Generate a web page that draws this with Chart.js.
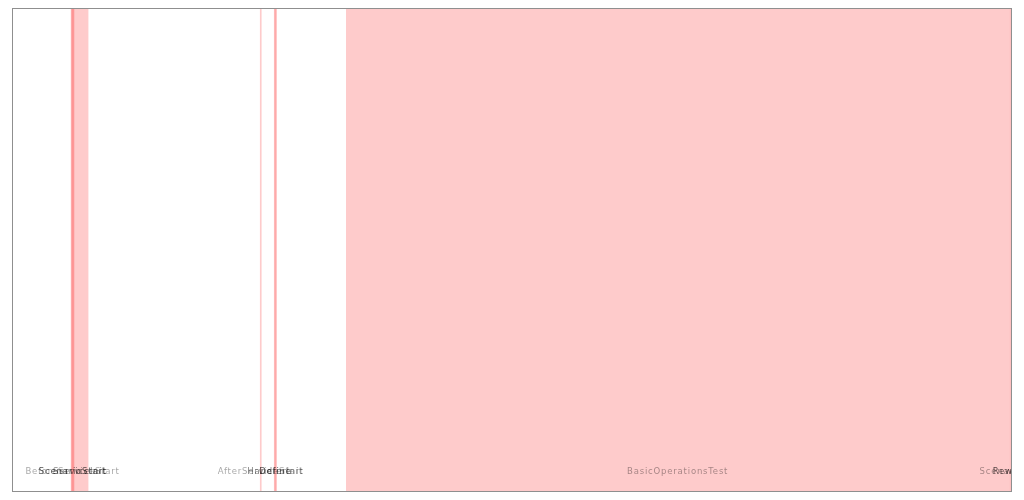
<!DOCTYPE html>
<html>
<head>
<meta charset="utf-8">
<style>
  html, body { margin: 0; padding: 0; background: #ffffff; }
  #wrap { width: 1024px; height: 500px; position: relative; }
</style>
<script src="https://cdn.jsdelivr.net/npm/chart.js@4.4.1/dist/chart.umd.min.js"></script>
</head>
<body>
<div id="wrap"><canvas id="c"></canvas></div>
<script>
// Timeline phases (time units along the x axis)
const phaseNames  = ["ServiceInit", "BeforeServiceStart", "ScenarioStart", "AfterServiceStart", "HandlerInit", "Define", "BasicOperationsTest", "ScenarioEnd", "Rewrite"];
const phaseStarts = [59.5, 59, 60, 248, 262, 262.5, 334, 996.5, 998];
const phaseEnds   = [76, 62, 61.5, 249, 264, 264, 996, 998.5, 999];
const labelTones  = ["mid", "light", "dark", "light", "mid", "dark", "light", "light", "dark"];
const axisMin = 0;
const axisMax = 999;

const toneColors = { light: "rgba(0,0,0,0.36)", mid: "rgba(0,0,0,0.5)", dark: "rgba(0,0,0,0.68)" };

const datasets = phaseNames.map((n, i) => ({
  label: n,
  data: [[phaseStarts[i], phaseEnds[i]]],
  backgroundColor: "rgba(252,110,110,0.36)",
  borderWidth: 0,
  grouped: false,
  categoryPercentage: 1,
  barPercentage: 1,
  minBarLength: 1
}));

const labelPlugin = {
  id: "phaseLabels",
  afterDatasetsDraw(chart) {
    const { ctx, chartArea, scales } = chart;
    ctx.save();
    ctx.beginPath();
    ctx.rect(chartArea.left, chartArea.top, chartArea.right - chartArea.left, chartArea.bottom - chartArea.top);
    ctx.clip();
    ctx.font = "8.5px 'DejaVu Sans'";
    ctx.textAlign = "center";
    ctx.textBaseline = "middle";
    try { ctx.letterSpacing = "0.8px"; } catch (e) {}
    phaseNames.forEach((n, i) => {
      const x = scales.x.getPixelForValue((phaseStarts[i] + phaseEnds[i]) / 2);
      ctx.fillStyle = toneColors[labelTones[i]];
      ctx.fillText(n, x, chartArea.bottom - 20);
    });
    ctx.restore();
    ctx.save();
    ctx.strokeStyle = "#8f8f8f";
    ctx.lineWidth = 1;
    ctx.strokeRect(chartArea.left + 0.5, chartArea.top + 0.5, chartArea.right - chartArea.left - 1, chartArea.bottom - chartArea.top - 1);
    ctx.restore();
  }
};

new Chart(document.getElementById("c"), {
  type: "bar",
  data: { labels: [""], datasets },
  options: {
    indexAxis: "y",
    responsive: true,
    maintainAspectRatio: false,
    animation: false,
    layout: { padding: { left: 12, top: 8, right: 12, bottom: 8 } },
    plugins: { legend: { display: false }, tooltip: { enabled: false } },
    scales: {
      x: { type: "linear", min: axisMin, max: axisMax, display: false },
      y: { display: false }
    }
  },
  plugins: [labelPlugin]
});
</script>
</body>
</html>
